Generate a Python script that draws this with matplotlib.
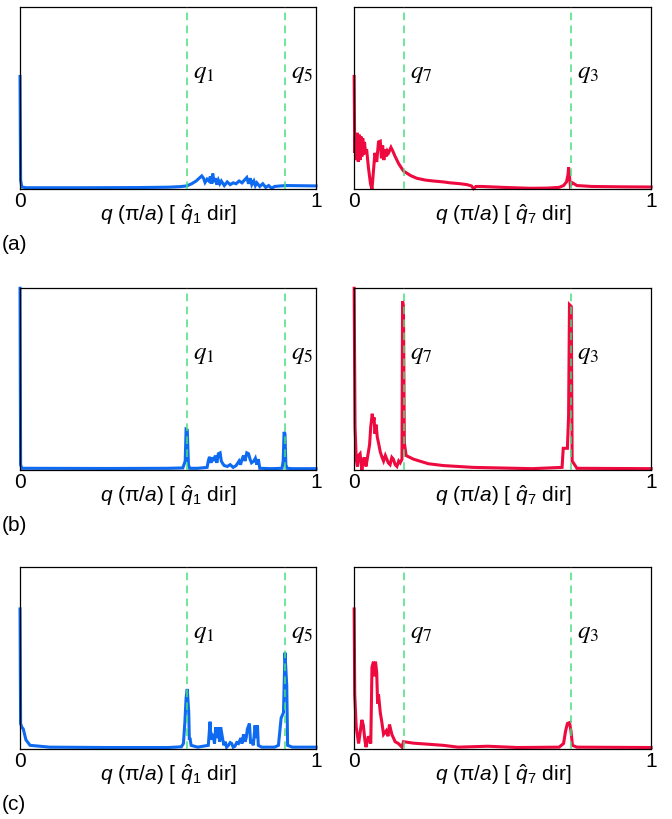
import numpy as np
import matplotlib
matplotlib.use("Agg")
import matplotlib.pyplot as plt

plt.rcParams['font.family'] = ['Liberation Sans', 'DejaVu Sans']
plt.rcParams['mathtext.fontset'] = 'custom'
plt.rcParams['mathtext.rm'] = 'Liberation Sans'
plt.rcParams['mathtext.it'] = 'Liberation Sans:italic'

BLUE = '#0f6af2'
RED = '#ee0a3e'
GREEN = '#48df7c'

# ----- (a) -----
a_left_x = [0, 0.002, 0.006, 0.02, 0.2, 0.4, 0.5, 0.54, 0.563, 0.58, 0.595, 0.605, 0.614, 0.620,
            0.625, 0.632, 0.638, 0.643, 0.648, 0.651, 0.655, 0.66, 0.665, 0.67, 0.675, 0.68, 0.69,
            0.70, 0.71, 0.72, 0.73, 0.74, 0.75, 0.758, 0.766, 0.772, 0.778, 0.783, 0.79, 0.795,
            0.80, 0.81, 0.82, 0.83, 0.84, 0.85, 0.86, 0.88, 0.9, 1.0]
a_left_y = [0.62, 0.05, 0.012, 0.008, 0.008, 0.009, 0.011, 0.014, 0.018, 0.03, 0.045, 0.06, 0.073,
            0.06, 0.037, 0.055, 0.045, 0.07, 0.03, 0.086, 0.04, 0.06, 0.025, 0.05, 0.03, 0.045,
            0.02, 0.04, 0.025, 0.035, 0.03, 0.045, 0.035, 0.05, 0.064, 0.03, 0.06, 0.025, 0.045,
            0.02, 0.035, 0.015, 0.03, 0.01, 0.02, 0.005, 0.015, 0.018, 0.02, 0.018]

a_right_x = [0, 0.002, 0.005, 0.008, 0.011, 0.014, 0.017, 0.02, 0.023, 0.026, 0.029, 0.032, 0.035,
             0.038, 0.042, 0.048, 0.055, 0.060, 0.064, 0.07, 0.076, 0.082, 0.088, 0.092, 0.096,
             0.1, 0.104, 0.108, 0.112, 0.116, 0.124, 0.13, 0.138, 0.15, 0.166, 0.19, 0.211, 0.24,
             0.267, 0.3, 0.323, 0.357, 0.38, 0.395, 0.402, 0.41, 0.43, 0.5, 0.593, 0.65, 0.69,
             0.705, 0.715, 0.72, 0.722, 0.725, 0.728, 0.735, 0.75, 0.8, 0.9, 1.0]
a_right_y = [0.62, 0.2, 0.3, 0.16, 0.31, 0.15, 0.3, 0.16, 0.29, 0.18, 0.28, 0.19, 0.26, 0.2, 0.22,
             0.12, 0.03, 0.0, 0.08, 0.2, 0.15, 0.26, 0.264, 0.17, 0.24, 0.16, 0.22, 0.18, 0.21,
             0.2, 0.23, 0.21, 0.18, 0.14, 0.1, 0.075, 0.06, 0.05, 0.045, 0.04, 0.035, 0.03, 0.025,
             0.018, 0.003, 0.015, 0.015, 0.01, 0.005, 0.006, 0.01, 0.02, 0.04, 0.08, 0.12, 0.07,
             0.02, 0.035, 0.02, 0.015, 0.013, 0.012]

# ----- (b) -----
b_left_x = [0, 0.002, 0.006, 0.3, 0.5, 0.55, 0.558, 0.561, 0.565, 0.569, 0.573, 0.6, 0.632, 0.636,
            0.640, 0.645, 0.65, 0.655, 0.66, 0.665, 0.67, 0.676, 0.68, 0.685, 0.69, 0.70, 0.71,
            0.72, 0.73, 0.74, 0.745, 0.75, 0.755, 0.76, 0.766, 0.772, 0.777, 0.782, 0.79, 0.795,
            0.80, 0.805, 0.81, 0.85, 0.885, 0.889, 0.892, 0.895, 0.898, 0.902, 0.92, 1.0]
b_left_y = [1.0, 0.03, 0.01, 0.009, 0.01, 0.012, 0.05, 0.224, 0.22, 0.03, 0.01, 0.01, 0.015, 0.05,
            0.073, 0.04, 0.07, 0.05, 0.08, 0.04, 0.09, 0.095, 0.05, 0.035, 0.025, 0.02, 0.03,
            0.015, 0.025, 0.05, 0.03, 0.06, 0.08, 0.05, 0.095, 0.09, 0.06, 0.04, 0.05, 0.065,
            0.03, 0.06, 0.01, 0.008, 0.01, 0.05, 0.21, 0.2, 0.03, 0.01, 0.008, 0.008]

b_right_x = [0, 0.003, 0.007, 0.011, 0.015, 0.020, 0.026, 0.030, 0.034, 0.040, 0.044, 0.048,
             0.052, 0.056, 0.061, 0.064, 0.067, 0.070, 0.074, 0.078, 0.082, 0.088, 0.094, 0.099,
             0.105, 0.110, 0.115, 0.121, 0.127, 0.132, 0.138, 0.144, 0.150, 0.155, 0.161, 0.163,
             0.166, 0.169, 0.175, 0.2, 0.25, 0.3, 0.4, 0.6, 0.70, 0.704, 0.718, 0.722, 0.725, 0.731,
             0.734, 0.75, 1.0]
b_right_y = [1.0, 0.24, 0.06, 0.02, 0.08, 0.09, 0.0, 0.05, 0.07, 0.02, 0.06, 0.1, 0.14, 0.24,
             0.31, 0.26, 0.29, 0.2, 0.25, 0.18, 0.15, 0.1, 0.07, 0.05, 0.08, 0.06, 0.04, 0.03,
             0.07, 0.06, 0.03, 0.02, 0.05, 0.04, 0.06, 0.93, 0.9, 0.15, 0.08, 0.06, 0.035, 0.025,
             0.015, 0.008, 0.015, 0.12, 0.12, 0.3, 0.91, 0.9, 0.05, 0.01, 0.008]

# ----- (c) -----
c_left_x = [0, 0.002, 0.006, 0.011, 0.02, 0.034, 0.1, 0.3, 0.5, 0.545, 0.552, 0.557, 0.561,
            0.565, 0.570, 0.572, 0.574, 0.578, 0.6, 0.636, 0.642, 0.645, 0.648, 0.653, 0.657,
            0.661, 0.665, 0.670, 0.674, 0.678, 0.685, 0.689, 0.693, 0.698, 0.704, 0.71, 0.715,
            0.72, 0.726, 0.732, 0.738, 0.746, 0.75, 0.755, 0.76, 0.764, 0.768, 0.775, 0.779,
            0.783, 0.788, 0.794, 0.798, 0.802, 0.805, 0.816, 0.86, 0.873, 0.882, 0.890, 0.895,
            0.901, 0.904, 0.92, 1.0]
c_left_y = [0.77, 0.14, 0.12, 0.11, 0.05, 0.02, 0.01, 0.008, 0.008, 0.012, 0.03, 0.15, 0.28, 0.33,
            0.2, 0.05, 0.06, 0.02, 0.01, 0.02, 0.15, 0.05, 0.08, 0.07, 0.03, 0.12, 0.06, 0.12,
            0.04, 0.12, 0.05, 0.02, 0.04, 0.01, 0.02, 0.035, 0.03, 0.01, 0.015, 0.035, 0.03,
            0.06, 0.03, 0.08, 0.04, 0.06, 0.11, 0.14, 0.03, 0.05, 0.02, 0.13, 0.06, 0.13, 0.02,
            0.01, 0.01, 0.02, 0.17, 0.2, 0.53, 0.35, 0.02, 0.01, 0.01]

c_right_x = [0, 0.002, 0.007, 0.015, 0.021, 0.026, 0.031, 0.036, 0.040, 0.048, 0.056, 0.060,
             0.065, 0.068, 0.072, 0.076, 0.079, 0.082, 0.088, 0.093, 0.099, 0.108, 0.114, 0.119,
             0.127, 0.138, 0.149, 0.161, 0.166, 0.2, 0.3, 0.35, 0.45, 0.55, 0.69, 0.705, 0.712,
             0.718, 0.725, 0.73, 0.735, 0.75, 1.0]
c_right_y = [0.77, 0.3, 0.12, 0.03, 0.1, 0.16, 0.13, 0.05, 0.01, 0.07, 0.03, 0.45, 0.48, 0.4,
             0.48, 0.42, 0.25, 0.3, 0.2, 0.15, 0.08, 0.1, 0.07, 0.135, 0.08, 0.04, 0.03, 0.01,
             0.04, 0.032, 0.02, 0.01, 0.015, 0.008, 0.01, 0.03, 0.1, 0.14, 0.145, 0.1, 0.02,
             0.01, 0.008]

left_lines = [0.565, 0.895]
left_names = ['$q_1$', '$q_5$']
right_lines = [0.167, 0.731]
right_names = ['$q_7$', '$q_3$']

panels = [
    (a_left_x, a_left_y, a_right_x, a_right_y, '(a)'),
    (b_left_x, b_left_y, b_right_x, b_right_y, '(b)'),
    (c_left_x, c_left_y, c_right_x, c_right_y, '(c)'),
]

fig = plt.figure(figsize=(6.72, 8.19), dpi=100)
bottoms = [0.769, 0.426, 0.0855]
height = 0.222


def setup(ax, xlabel):
    ax.set_xlim(0, 1)
    ax.set_ylim(0, 1)
    ax.set_xticks([0, 1])
    ax.set_xticklabels(['0', '1'], fontsize=15)
    ax.set_yticks([])
    ax.tick_params(axis='x', length=0, pad=2)
    ax.set_xlabel(xlabel, fontsize=15, labelpad=-6)
    for s in ax.spines.values():
        s.set_linewidth(0.9)


for row, (lx, ly, rx, ry, tag) in enumerate(panels):
    b = bottoms[row]
    axl = fig.add_axes([0.0298, b, 0.4405, height])
    axr = fig.add_axes([0.527, b, 0.442, height])

    axl.plot(lx, ly, color=BLUE, lw=2.2, solid_joinstyle='miter', clip_on=False)
    axr.plot(rx, ry, color=RED, lw=2.2, solid_joinstyle='miter', clip_on=False)

    for ax, xs, names in [(axl, left_lines, left_names), (axr, right_lines, right_names)]:
        for xv, nm in zip(xs, names):
            ax.axvline(xv, color=GREEN, lw=1.1, ls=(0, (5, 3.5)), zorder=3)
            ax.text(xv + 0.02, 0.64, nm, fontsize=18, math_fontfamily='stix',
                    ha='left', va='center')

    setup(axl, r'$q$ (π/$a$) [ $\hat{q}_{\mathit{1}}$ dir]')
    setup(axr, r'$q$ (π/$a$) [ $\hat{q}_{\mathit{7}}$ dir]')

    fig.text(0.003, b - 0.068, tag, fontsize=15, ha='left', va='center')

fig.savefig('out.png', dpi=100)
